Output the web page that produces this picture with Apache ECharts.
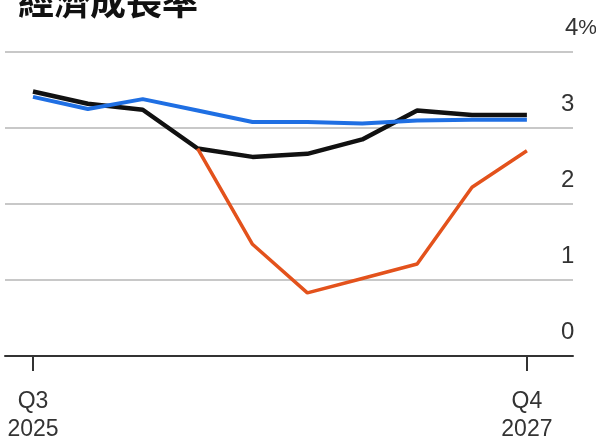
<!DOCTYPE html>
<html>
<head>
<meta charset="utf-8">
<script src="https://cdn.jsdelivr.net/npm/echarts@6/dist/echarts.min.js"></script>
<style>
  html, body { margin: 0; padding: 0; background: #fff; }
  #chart { width: 596px; height: 442px; }
</style>
</head>
<body>
<div id="chart"></div>
<script>
// quarters, Q3 2025 .. Q4 2027
var quarters = ['Q3\n2025', 'Q4\n2025', 'Q1\n2026', 'Q2\n2026', 'Q3\n2026', 'Q4\n2026', 'Q1\n2027', 'Q2\n2027', 'Q3\n2027', 'Q4\n2027']
var shownQuarters = [0, 9]
var blackLine = [3.48, 3.32, 3.24, 2.73, 2.62, 2.66, 2.85, 3.23, 3.17, 3.17]
var blueLine = [3.41, 3.25, 3.38, 3.23, 3.08, 3.08, 3.06, 3.10, 3.11, 3.11]
var orangeLine = [null, null, null, 2.73, 1.47, 0.83, 1.02, 1.21, 2.22, 2.70]

function pairs(arr) {
  return arr.map(function (v, i) { return [i, v] })
}

var font = '"Liberation Sans Narrow", "Liberation Sans", sans-serif'
var chart = echarts.init(document.getElementById('chart'))
chart.setOption({
  animation: false,
  backgroundColor: '#fff',
  graphic: [{
    type: 'text',
    x: 18,
    y: -17,
    style: {
      text: '經濟成長率',
      font: 'bold 36px "Noto Sans CJK TC"',
      fill: '#111'
    }
  }],
  grid: { left: 5, right: 23, top: 52, bottom: 86, outerBoundsMode: 'none', containLabel: false },
  xAxis: {
    type: 'value',
    min: -0.51,
    max: 9.84,
    splitLine: { show: false },
    axisLine: { show: true, lineStyle: { color: '#333', width: 2 } },
    axisTick: { show: true, customValues: shownQuarters, length: 15, lineStyle: { color: '#333', width: 2 } },
    axisLabel: {
      customValues: shownQuarters,
      margin: 32,
      color: '#333',
      fontFamily: font,
      fontSize: 23,
      lineHeight: 28,
      formatter: function (v) { return quarters[v] }
    }
  },
  yAxis: {
    type: 'value',
    position: 'right',
    min: 0,
    max: 4,
    interval: 1,
    axisLine: { show: false },
    axisTick: { show: false },
    splitLine: { lineStyle: { color: '#c8c8c8', width: 2 } },
    axisLabel: {
      margin: -12,
      align: 'left',
      verticalAlign: 'bottom',
      padding: [0, 0, 12, 0],
      color: '#333',
      fontFamily: font,
      fontSize: 24,
      formatter: function (v) { return v === 4 ? '{p|4}{q|%}' : String(v) },
      rich: {
        p: { padding: [0, 0, 0, 4], fontFamily: font, fontSize: 24, color: '#333' },
        q: { fontFamily: font, fontSize: 21, color: '#333' }
      }
    }
  },
  series: [
    { type: 'line', data: pairs(blackLine), symbol: 'none', lineStyle: { color: '#111', width: 4.5 }, z: 2 },
    { type: 'line', data: pairs(blueLine), symbol: 'none', lineStyle: { color: '#1f6fe3', width: 4 }, z: 3 },
    { type: 'line', data: pairs(orangeLine), symbol: 'none', lineStyle: { color: '#e3521c', width: 3.5 }, z: 4 }
  ]
})
</script>
</body>
</html>
